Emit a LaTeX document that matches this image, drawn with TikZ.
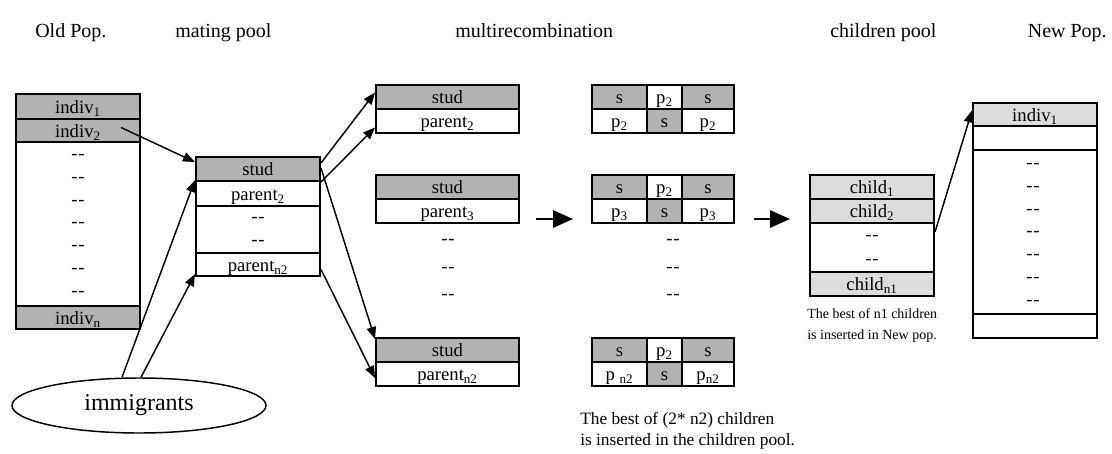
\documentclass[tikz,border=0pt]{standalone}
\usepackage{fontspec}
\setmainfont{Liberation Serif}
\usetikzlibrary{arrows.meta,shapes.geometric,calc}
\definecolor{studgray}{HTML}{B2B2B2}
\definecolor{childgray}{HTML}{DCDCDC}
\newcommand{\dd}{-\kern0.6pt-}
\begin{document}
\begin{tikzpicture}[x=0.75pt,y=-0.75pt,
  cell/.style={draw=black, line width=1.5pt, inner sep=0pt, text height=10pt, text depth=0pt, font=\fontsize{14}{16}\selectfont},
  pool/.style={cell, minimum width=93pt},
  pair/.style={cell, minimum width=107.25pt, minimum height=18pt},
  filler/.style={inner sep=0pt, font=\fontsize{14}{16}\selectfont},
  head/.style={anchor=base west, inner sep=0pt, font=\fontsize{15}{18}\selectfont},
  note/.style={anchor=base west, inner sep=0pt},
  link/.style={-{Triangle[length=9pt,width=7pt]}, line width=1.1pt},
  bigarrow/.style={-{Triangle[length=15pt,width=13pt]}, line width=1.5pt}]
\useasboundingbox (0,0) rectangle (1112,453);
% column titles
\node[head] (tOld) at (35,38) {Old Pop.};
\node[head] (tMate) at (175,38) {mating pool};
\node[head] (tMulti) at (455,38) {multirecombination};
\node[head] (tChild) at (830,38) {children pool};
\node[head, anchor=base east] (tNew) at (1107,38) {New Pop.};

% old population
\node[pool, fill=studgray, minimum height=18.75pt] (op1) at (78,106.5) {indiv\textsubscript{1}};
\node[pool, fill=studgray, minimum height=17.25pt] (op2) at (78,130.5) {indiv\textsubscript{2}};
\node[pool, minimum height=123pt] (opm) at (78,224) {};
\node[pool, fill=studgray, minimum height=17.25pt] (opn) at (78,317.5) {indiv\textsubscript{n}};
\foreach \i in {0,...,6} {\node[filler] (opd\i) at (78,157+22.8*\i) {\dd};}

% immigrants
\node[draw, ellipse, line width=1.1pt, minimum width=190.5pt, minimum height=41.25pt, inner sep=0pt, font=\fontsize{18}{21}\selectfont] (imm) at (139,405.5) {immigrants};

% mating pool
\node[pool, fill=studgray, minimum height=18pt] (mp1) at (258,169) {stud};
\node[pool, minimum height=18.75pt] (mp2) at (258,193.5) {parent\textsubscript{2}};
\node[pool, minimum height=35.25pt] (mpm) at (258,229.5) {};
\node[pool, minimum height=17.25pt] (mpn) at (258,264.5) {parent\textsubscript{n2}};
\node[filler] (mpd1) at (258,220) {\dd};
\node[filler] (mpd2) at (258,243) {\dd};

\draw[link] ($(op2.east)+(-20,-3)$) -- ($(mp1.west)+(0,-7)$);
\draw[link] ($(imm.north)+(-17,0)$) -- (mp2.north west);
\draw[link] ($(imm.north)+(2,0)$) -- ($(mpn.south west)+(0,-3)$);

% stud / parent pairs
\node[pair, fill=studgray] (a1) at (447.5,96.5) {stud};
\node[pair] (a2) at (447.5,120.5) {parent\textsubscript{2}};
\node[pair, fill=studgray] (b1) at (447.5,187) {stud};
\node[pair] (b2) at (447.5,211) {parent\textsubscript{3}};
\node[pair, fill=studgray] (c1) at (447.5,350) {stud};
\node[pair] (c2) at (447.5,374) {parent\textsubscript{n2}};
\foreach \y [count=\j] in {242,270,297} {\node[filler] (pd\j) at (448,\y) {\dd};}

\draw[link] ($(mp1.east)+(0,-6)$) -- ($(a1.west)+(0,-4)$);
\draw[link] (mp1.south east) -- ($(a2.west)+(0,7)$);
\draw[link] ($(mp1.east)+(0,-1)$) -- ($(c1.north west)+(0,2)$);
\draw[link] ($(mpn.east)+(0,5)$) -- ($(c2.west)+(0,4)$);

% multirecombination: two children per pair
\foreach \k/\ya/\yb/\pl/\pr in {a/96.5/120.5/p\textsubscript{2}/p\textsubscript{2}, b/187/211/p\textsubscript{3}/p\textsubscript{3}, c/350/374/p \textsubscript{n2}/p\textsubscript{n2}} {
  \node[cell, fill=studgray, minimum width=41.25pt, minimum height=18pt] (\k-l1) at (619.5,\ya) {s};
  \node[cell, minimum width=26.25pt, minimum height=18pt] (\k-m1) at (664.5,\ya) {p\textsubscript{2}};
  \node[cell, fill=studgray, minimum width=39pt, minimum height=18pt] (\k-r1) at (708,\ya) {s};
  \node[cell, minimum width=41.25pt, minimum height=18pt] (\k-l2) at (619.5,\yb) {\pl};
  \node[cell, fill=studgray, minimum width=26.25pt, minimum height=18pt] (\k-m2) at (664.5,\yb) {s};
  \node[cell, minimum width=39pt, minimum height=18pt] (\k-r2) at (708,\yb) {\pr};
}
\foreach \y [count=\j] in {242,270,297} {\node[filler] (rd\j) at (673,\y) {\dd};}

\coordinate (m1) at ($(b2.east)+(16,8)$);
\coordinate (m2) at ($(b-l2.west)+(-18,8)$);
\draw[bigarrow] (m1) -- (m2);

\node[note, font=\fontsize{13}{15}\selectfont] (capA) at (580,424) {The best of (2* n2) children};
\node[note, font=\fontsize{13}{15}\selectfont] (capB) at (580,445) {is inserted in the children pool.};

% children pool
\node[pool, fill=childgray, minimum height=18pt] (cp1) at (872,187) {child\textsubscript{1}};
\node[pool, fill=childgray, minimum height=18pt] (cp2) at (872,211) {child\textsubscript{2}};
\node[pool, minimum height=36.75pt] (cpm) at (872,247.5) {};
\node[pool, fill=childgray, minimum height=18pt] (cpn) at (872,284) {child\textsubscript{n1}};
\node[filler] (cpd1) at (872,238) {\dd};
\node[filler] (cpd2) at (872,262) {\dd};

\coordinate (k1) at ($(b-r2.east)+(19,8)$);
\coordinate (k2) at ($(cp2.west)+(-19,8)$);
\draw[bigarrow] (k1) -- (k2);

\node[note, font=\fontsize{10.5}{13}\selectfont] (capC) at (807,318) {The best of n1 children};
\node[note, font=\fontsize{10.5}{13}\selectfont] (capD) at (807,339) {is inserted in New pop.};

% new population
\node[pool, fill=childgray, minimum height=17.25pt] (np1) at (1035,114.5) {indiv\textsubscript{1}};
\node[pool, minimum height=18pt] (np2) at (1035,138) {};
\node[pool, minimum height=123pt] (npm) at (1035,232) {};
\node[pool, minimum height=18pt] (npn) at (1035,326) {};
\foreach \i in {0,...,6} {\node[filler] (npd\i) at (1033,166+22.8*\i) {\dd};}

\draw[link] ($(cpm.north east)+(0,10)$) -- ($(np1.west)+(0,-4)$);
\end{tikzpicture}
\end{document}
